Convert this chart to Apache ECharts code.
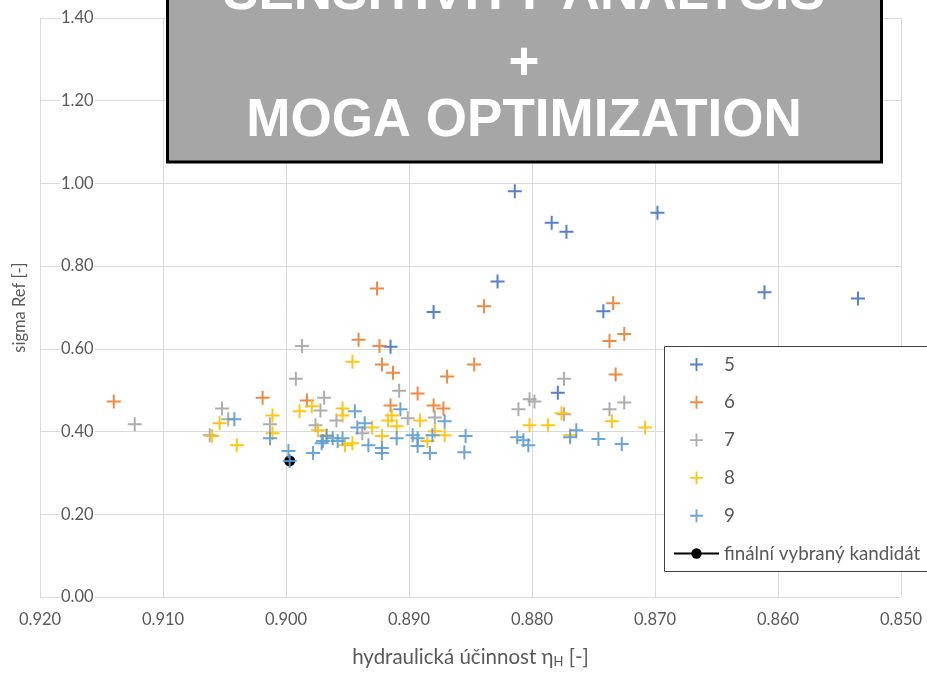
<!DOCTYPE html>
<html>
<head>
<meta charset="utf-8">
<script src="https://cdn.jsdelivr.net/npm/echarts@6/dist/echarts.min.js"></script>
<style>html,body{margin:0;padding:0;background:#fff}#c{width:927px;height:673px}</style>
</head>
<body>
<div id="c"></div>
<script>
// ---- data (x = hydraulická účinnost, y = sigma Ref) ----
const seriesNames = ['5', '6', '7', '8', '9'];
const candidateName = 'finální vybraný kandidát';
const xTicks = [0.850, 0.860, 0.870, 0.880, 0.890, 0.900, 0.910, 0.920];
const yTicks = [0.00, 0.20, 0.40, 0.60, 0.80, 1.00, 1.20, 1.40];

const s5 = [[0.8814,0.981],[0.8784,0.905],[0.8772,0.883],[0.8698,0.929],[0.8828,0.763],[0.8880,0.689],
  [0.8611,0.737],[0.8535,0.722],[0.8742,0.691],[0.8915,0.605],[0.8779,0.494]];
const s6 = [[0.9140,0.473],[0.9019,0.482],[0.8926,0.746],[0.8839,0.703],[0.8734,0.710],[0.8737,0.619],
  [0.8725,0.636],[0.8732,0.538],[0.8847,0.562],[0.8941,0.622],[0.8924,0.607],[0.8922,0.562],[0.8913,0.542],
  [0.8869,0.533],[0.8893,0.492],[0.8983,0.475],[0.8880,0.463],[0.8872,0.456],[0.8915,0.463]];
const s7 = [[0.9123,0.418],[0.9052,0.456],[0.9047,0.430],[0.9062,0.391],[0.9013,0.418],[0.8987,0.607],
  [0.8992,0.528],[0.8969,0.482],[0.8972,0.451],[0.8976,0.415],[0.8959,0.427],[0.8938,0.396],[0.8908,0.499],
  [0.8901,0.432],[0.8879,0.434],[0.8774,0.528],[0.8802,0.478],[0.8798,0.473],[0.8811,0.454],[0.8774,0.442],
  [0.8737,0.454],[0.8725,0.470]];
const s8 = [[0.9054,0.420],[0.9060,0.389],[0.9040,0.367],[0.9011,0.439],[0.9011,0.396],[0.8989,0.449],
  [0.8979,0.461],[0.8974,0.403],[0.8946,0.569],[0.8954,0.456],[0.8954,0.439],[0.8967,0.391],[0.8952,0.367],
  [0.8946,0.372],[0.8930,0.410],[0.8922,0.389],[0.8917,0.427],[0.8914,0.439],[0.8910,0.413],[0.8891,0.427],
  [0.8885,0.377],[0.8879,0.401],[0.8871,0.391],[0.8802,0.415],[0.8787,0.415],[0.8776,0.444],[0.8769,0.391],
  [0.8735,0.425],[0.8708,0.410]];
const s9 = [[0.9042,0.430],[0.9013,0.384],[0.8998,0.353],[0.8997,0.329],[0.8978,0.348],[0.8970,0.377],
  [0.8967,0.389],[0.8971,0.372],[0.8962,0.384],[0.8954,0.384],[0.8958,0.377],[0.8944,0.449],[0.8942,0.410],
  [0.8936,0.420],[0.8933,0.367],[0.8922,0.360],[0.8922,0.348],[0.8910,0.384],[0.8907,0.454],[0.8897,0.391],
  [0.8893,0.384],[0.8893,0.365],[0.8883,0.348],[0.8881,0.391],[0.8871,0.425],[0.8854,0.389],[0.8855,0.350],
  [0.8812,0.386],[0.8807,0.379],[0.8803,0.367],[0.8769,0.386],[0.8764,0.403],[0.8746,0.382],[0.8727,0.370]];
const candidate = [[0.8997,0.329]];

const colors = ['#4472C4', '#ED7D31', '#A5A5A5', '#FFC000', '#5B9BD5'];
const seriesData = [s5, s6, s7, s8, s9];

// ---- chart ----
const cross = 'path://M6,0H8V6H14V8H8V14H6V8H0V6H6Z';
const font = 'Lato';
const txt = '#595959';

const scatterSeries = seriesData.map((d, i) => ({
  name: seriesNames[i], type: 'scatter', data: d,
  symbol: cross, symbolSize: 14, symbolKeepAspect: true,
  itemStyle: { color: colors[i], opacity: 0.9 }, z: 2
}));

const option = {
  animation: false,
  grid: { left: 40, right: 26, top: 18, bottom: 73, containLabel: false },
  xAxis: {
    type: 'value', inverse: true, min: xTicks[0], max: xTicks[xTicks.length - 1], interval: 0.01,
    axisLine: { show: false }, axisTick: { show: false },
    splitLine: { show: true, lineStyle: { color: '#d9d9d9', width: 1 } },
    axisLabel: { color: txt, fontSize: 16.5, fontFamily: font, margin: 14, formatter: v => v.toFixed(3) },
    name: 'hydraulická účinnost η{s|H} [-]', nameLocation: 'middle', nameGap: 49,
    nameTextStyle: { color: txt, fontSize: 20.5, fontFamily: font,
      rich: { s: { fontSize: 13, color: txt, fontFamily: font, padding: [9, 0, 0, 0] } } }
  },
  yAxis: {
    type: 'value', min: yTicks[0], max: yTicks[yTicks.length - 1], interval: 0.2,
    axisLine: { show: false }, axisTick: { show: false },
    splitLine: { show: true, lineStyle: { color: '#d9d9d9', width: 1 } },
    axisLabel: { inside: true, margin: 20, color: txt, fontSize: 16.5, fontFamily: font,
      backgroundColor: '#fff', padding: [0, 1], formatter: v => v.toFixed(2) },
    name: 'sigma Ref [-]', nameLocation: 'middle', nameGap: 12,
    nameTextStyle: { color: txt, fontSize: 16.5, fontFamily: font }
  },
  legend: {
    orient: 'vertical', left: 673, top: 355, padding: 0, itemWidth: 45, itemHeight: 13, itemGap: 18.8,
    symbolKeepAspect: true, z: 6,
    textStyle: { color: txt, fontSize: 18.8, fontFamily: font },
    data: seriesNames.map(n => ({ name: n, icon: cross })).concat([{ name: candidateName }])
  },
  graphic: [
    { type: 'rect', z: 5, shape: { x: 664.5, y: 346.5, width: 300, height: 225 },
      style: { fill: '#fff', stroke: '#404040', lineWidth: 1 } },
    { type: 'rect', z: 100, shape: { x: 167.5, y: -10, width: 714, height: 172 },
      style: { fill: '#a6a6a6', stroke: '#000', lineWidth: 3 } },
    { type: 'text', z: 101, style: { x: 524, y: -6, text: 'SENSITIVITY ANALYSIS', fill: '#fff',
      font: 'bold 53px "Liberation Sans"', align: 'center', verticalAlign: 'middle' } },
    { type: 'text', z: 101, style: { x: 524, y: 64, text: '+', fill: '#fff',
      font: 'bold 53px "Liberation Sans"', align: 'center', verticalAlign: 'middle' } },
    { type: 'text', z: 101, style: { x: 524, y: 121, text: 'MOGA OPTIMIZATION', fill: '#fff',
      font: 'bold 53px "Liberation Sans"', align: 'center', verticalAlign: 'middle' } }
  ],
  series: scatterSeries.concat([{
    name: candidateName, type: 'line', data: candidate, symbol: 'circle', symbolSize: 11,
    itemStyle: { color: '#000' }, lineStyle: { color: '#000', width: 3 }, z: 1
  }])
};

const chart = echarts.init(document.getElementById('c'), null, { renderer: 'canvas' });
chart.setOption(option);
</script>
</body>
</html>
